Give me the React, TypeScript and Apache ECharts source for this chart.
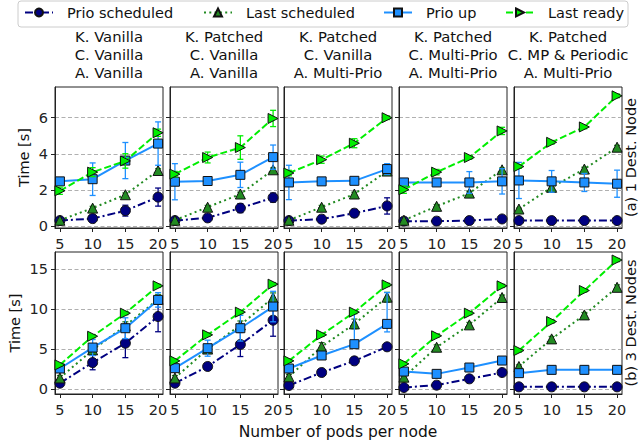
import React, { useEffect, useRef } from "react";
import * as echarts from "echarts";

// ---------- data ----------
const podCounts = [5, 10, 15, 20];
const seriesNames = ["Prio scheduled", "Last scheduled", "Prio up", "Last ready"];
const columnTitles = [
  "K. Vanilla\nC. Vanilla\nA. Vanilla",
  "K. Patched\nC. Vanilla\nA. Vanilla",
  "K. Patched\nC. Vanilla\nA. Multi-Prio",
  "K. Patched\nC. Multi-Prio\nA. Multi-Prio",
  "K. Patched\nC. MP & Periodic\nA. Multi-Prio",
];
const rowLabels = ["(a) 1 Dest. Node", "(b) 3 Dest. Nodes"];
const topTicks = [0, 2, 4, 6];
const bottomTicks = [0, 5, 10, 15];

// Row (a): 1 destination node — one array per column
const prioScheduledA = [
  [0.31, 0.42, 0.86, 1.61],
  [0.31, 0.46, 1.0, 1.58],
  [0.31, 0.39, 0.72, 1.12],
  [0.28, 0.28, 0.31, 0.4],
  [0.31, 0.31, 0.31, 0.31],
];
const prioScheduledErrA = [
  [0.05, 0.1, 0.3, 0.5],
  [0.05, 0.1, 0.25, 0.25],
  [0.05, 0.05, 0.2, 0.45],
  [0.03, 0.03, 0.03, 0.05],
  [0.03, 0.03, 0.03, 0.03],
];
const lastScheduledA = [
  [0.33, 1.0, 1.74, 3.08],
  [0.33, 1.05, 1.78, 3.12],
  [0.33, 1.05, 1.78, 3.05],
  [0.33, 1.1, 1.83, 3.12],
  [0.95, 2.15, 3.16, 4.37],
];
const lastScheduledErrA = [
  [0.05, 0.1, 0.1, 0.1],
  [0.05, 0.1, 0.1, 0.1],
  [0.05, 0.1, 0.1, 0.1],
  [0.05, 0.1, 0.1, 0.1],
  [0.05, 0.1, 0.1, 0.1],
];
const prioUpA = [
  [2.48, 2.6, 3.63, 4.57],
  [2.46, 2.5, 2.84, 3.82],
  [2.42, 2.48, 2.51, 3.16],
  [2.42, 2.42, 2.42, 2.48],
  [2.53, 2.48, 2.42, 2.35],
];
const prioUpErrA = [
  [0.1, 0.9, 1.0, 1.2],
  [1.0, 0.1, 0.7, 0.67],
  [0.95, 0.1, 0.15, 0.3],
  [0.1, 0.1, 0.6, 0.7],
  [1.0, 0.6, 0.5, 0.75],
];
const lastReadyA = [
  [1.96, 2.99, 3.61, 5.17],
  [2.88, 3.8, 4.35, 5.96],
  [2.94, 3.68, 4.59, 6.0],
  [2.02, 2.99, 3.8, 5.27],
  [3.3, 4.64, 5.49, 7.21],
];
const lastReadyErrA = [
  [0.2, 0.25, 0.4, 0.2],
  [0.15, 0.3, 0.65, 0.45],
  [0.15, 0.2, 0.25, 0.1],
  [0.2, 0.15, 0.1, 0.2],
  [0.1, 0.1, 0.1, 0.1],
];

// Row (b): 3 destination nodes
const prioScheduledB = [
  [0.75, 3.32, 5.73, 9.06],
  [0.75, 2.83, 5.57, 8.6],
  [0.46, 2.08, 3.53, 5.28],
  [0.21, 0.5, 1.29, 2.08],
  [0.29, 0.29, 0.29, 0.29],
];
const prioScheduledErrB = [
  [0.2, 0.9, 1.8, 1.9],
  [0.2, 0.3, 1.5, 2.0],
  [0.1, 0.2, 0.3, 0.3],
  [0.1, 0.1, 0.1, 0.1],
  [0.05, 0.05, 0.05, 0.05],
];
const lastScheduledB = [
  [1.4, 4.9, 7.9, 11.2],
  [1.4, 5.0, 8.0, 11.4],
  [1.55, 5.3, 8.14, 11.47],
  [1.5, 5.23, 8.02, 11.43],
  [2.83, 6.27, 9.26, 12.7],
];
const lastScheduledErrB = [
  [0.3, 0.4, 0.5, 0.6],
  [0.3, 0.4, 0.5, 0.6],
  [0.3, 0.5, 0.6, 0.6],
  [0.2, 0.3, 0.3, 0.3],
  [0.2, 0.3, 0.3, 0.3],
];
const prioUpB = [
  [2.58, 5.19, 7.6, 11.13],
  [2.62, 5.11, 7.6, 10.3],
  [2.58, 4.2, 5.61, 8.14],
  [2.2, 1.91, 2.7, 3.57],
  [2.0, 2.41, 2.41, 2.41],
];
// entries: symmetric number or [below, above]
const prioUpErrB: (number | number[])[][] = [
  [0.2, 1.0, 1.3, 0.9],
  [0.2, 1.0, 1.6, 1.9],
  [0.3, 0.3, [0.3, 4.1], [1.0, 3.9]],
  [0.2, 0.2, 0.2, 0.2],
  [0.2, 0.5, 0.5, 0.5],
];
const lastReadyB = [
  [3.03, 6.6, 9.47, 12.88],
  [3.53, 6.77, 9.6, 13.09],
  [3.53, 6.77, 9.6, 13.0],
  [3.16, 6.65, 9.47, 12.88],
  [4.82, 8.43, 12.3, 16.1],
];
const lastReadyErrB = [
  [0.2, 0.2, 0.2, 0.2],
  [0.2, 0.2, 0.2, 0.2],
  [0.2, 0.2, 0.2, 0.2],
  [0.2, 0.2, 0.2, 0.2],
  [0.2, 0.2, 0.2, 0.2],
];

// ---------- styles ----------
const FONT = "DejaVu Sans";
const colors = ["#000080", "#228B22", "#1E90FF", "#00EE00"];
const dashes: any[] = [[8, 3, 2, 3], [2, 3.3], "solid", [7, 3]];
const symbols = ["circle", "triangle", "rect", "path://M0,0L10,5L0,10Z"];
const symbolSizes = [10, 10, 9, 10];

const colLefts = [55, 170, 284, 399, 514];
const colWidth = 108;
const rowTops = [87, 252];
const rowHeights = [141, 142];
const yRanges = [
  [-0.1, 7.7],
  [-0.6, 17.1],
];

export default function App() {
  const ref = useRef<HTMLDivElement>(null);

  useEffect(() => {
    if (!ref.current) return;
    const chart = echarts.init(ref.current, undefined, { renderer: "svg" });

    const rows = [
      {
        vals: [prioScheduledA, lastScheduledA, prioUpA, lastReadyA],
        errs: [prioScheduledErrA, lastScheduledErrA, prioUpErrA, lastReadyErrA],
        ticks: topTicks,
      },
      {
        vals: [prioScheduledB, lastScheduledB, prioUpB, lastReadyB],
        errs: [prioScheduledErrB, lastScheduledErrB, prioUpErrB, lastReadyErrB],
        ticks: bottomTicks,
      },
    ];

    const grids: any[] = [];
    const xAxes: any[] = [];
    const yAxes: any[] = [];
    const series: any[] = [];

    rows.forEach((row, r) => {
      for (let c = 0; c < 5; c++) {
        const idx = r * 5 + c;
        grids.push({
          left: colLefts[c],
          top: rowTops[r],
          width: colWidth,
          height: rowHeights[r],
          show: true,
          borderColor: "#222",
          borderWidth: 1,
          backgroundColor: "transparent",
        });
        xAxes.push({
          gridIndex: idx,
          type: "value",
          min: 4.25,
          max: 20.75,
          axisLine: { show: true, onZero: false, lineStyle: { color: "#222", width: 1 } },
          axisTick: { show: true, inside: false, length: 4, customValues: podCounts, lineStyle: { color: "#222" } },
          axisLabel: {
            show: true,
            customValues: podCounts,
            margin: 8,
            color: "#222",
            fontFamily: FONT,
            fontSize: 14.5,
          },
          splitLine: { show: false },
        });
        yAxes.push({
          gridIndex: idx,
          type: "value",
          min: yRanges[r][0],
          max: yRanges[r][1],
          axisLine: { show: true, onZero: false, lineStyle: { color: "#222", width: 1 } },
          axisTick: { show: true, inside: false, length: 4, customValues: row.ticks, lineStyle: { color: "#222" } },
          axisLabel: {
            show: c === 0,
            customValues: row.ticks,
            margin: 7,
            color: "#222",
            fontFamily: FONT,
            fontSize: 14.5,
          },
          splitLine: { show: true, lineStyle: { type: [4, 2.5], color: "#b0b0b0", width: 1 } },
        });

        for (let s = 0; s < 4; s++) {
          const vals = row.vals[s][c];
          const errs = row.errs[s][c];
          const color = colors[s];
          series.push({
            type: "custom",
            name: seriesNames[s] + " err",
            xAxisIndex: idx,
            yAxisIndex: idx,
            silent: true,
            z: 2 + s * 2,
            encode: { x: 0, y: 1 },
            data: podCounts.map((x, i) => {
              const e: any = errs[i];
              const lo = Array.isArray(e) ? e[0] : e;
              const hi = Array.isArray(e) ? e[1] : e;
              return [x, vals[i] - lo, vals[i] + hi];
            }),
            renderItem: (_p: any, api: any) => {
              const x = api.value(0);
              const p1 = api.coord([x, api.value(2)]);
              const p2 = api.coord([x, api.value(1)]);
              const cw = 3;
              const st = { stroke: color, lineWidth: 1.3 };
              return {
                type: "group",
                children: [
                  { type: "line", shape: { x1: p1[0], y1: p1[1], x2: p2[0], y2: p2[1] }, style: st },
                  { type: "line", shape: { x1: p1[0] - cw, y1: p1[1], x2: p1[0] + cw, y2: p1[1] }, style: st },
                  { type: "line", shape: { x1: p2[0] - cw, y1: p2[1], x2: p2[0] + cw, y2: p2[1] }, style: st },
                ],
              };
            },
          });
          series.push({
            type: "line",
            name: seriesNames[s],
            xAxisIndex: idx,
            yAxisIndex: idx,
            z: 3 + s * 2,
            data: podCounts.map((x, i) => [x, vals[i]]),
            symbol: symbols[s],
            symbolSize: symbolSizes[s],
            showAllSymbol: true,
            lineStyle: { color, width: 2, type: dashes[s] },
            itemStyle: { color, borderColor: "#111", borderWidth: 1, opacity: 1 },
            emphasis: { disabled: true },
          });
        }
      }
    });

    const legendLefts = [24, 203, 383, 505];
    const legends = seriesNames.map((n, i) => ({
      data: [n],
      left: legendLefts[i],
      top: 5,
      padding: 0,
      itemWidth: 28,
      itemHeight: 10,
      selectedMode: false,
      textStyle: { fontFamily: FONT, fontSize: 14.5, color: "#111", padding: [0, 0, 0, 9] },
    }));

    const graphics: any[] = [
      {
        type: "rect",
        z: -1,
        shape: { x: 18, y: 1, width: 610, height: 26, r: 3 },
        style: { fill: "rgba(255,255,255,0.8)", stroke: "#cccccc", lineWidth: 1 },
      },
    ];
    columnTitles.forEach((t, c) => {
      graphics.push({
        type: "text",
        x: colLefts[c] + colWidth / 2,
        y: 27,
        style: {
          text: t,
          align: "center",
          verticalAlign: "top",
          lineHeight: 18.3,
          font: `14.8px "${FONT}"`,
          fill: "#111",
        },
      });
    });
    const rowCenters = rowTops.map((t, r) => t + rowHeights[r] / 2);
    const yLabelX = [23.5, 15];
    rowCenters.forEach((cy, r) => {
      graphics.push({
        type: "text",
        x: yLabelX[r],
        y: cy,
        rotation: Math.PI / 2,
        style: { text: "Time [s]", align: "center", verticalAlign: "middle", font: `14.5px "${FONT}"`, fill: "#111" },
      });
      graphics.push({
        type: "text",
        x: 631,
        y: cy,
        rotation: Math.PI / 2,
        style: { text: rowLabels[r], align: "center", verticalAlign: "middle", font: `14.5px "${FONT}"`, fill: "#111" },
      });
    });
    graphics.push({
      type: "text",
      x: 338,
      y: 431.5,
      style: {
        text: "Number of pods per node",
        align: "center",
        verticalAlign: "middle",
        font: `15.5px "${FONT}"`,
        fill: "#111",
      },
    });

    chart.setOption({
      animation: false,
      backgroundColor: "#fff",
      grid: grids,
      xAxis: xAxes,
      yAxis: yAxes,
      legend: legends,
      graphic: graphics,
      series,
    });

    return () => chart.dispose();
  }, []);

  return (
    <div
      ref={ref}
      style={{ position: "fixed", left: 0, top: 0, width: 640, height: 444 }}
    />
  );
}
